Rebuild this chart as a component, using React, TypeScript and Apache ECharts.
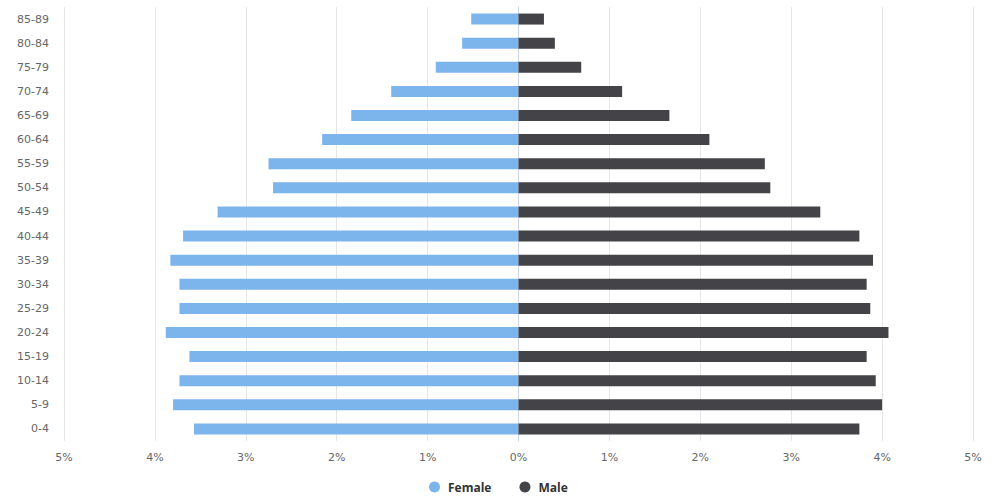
import React, { useEffect, useRef } from "react";
import * as echarts from "echarts";

const categories = ["0-4", "5-9", "10-14", "15-19", "20-24", "25-29", "30-34", "35-39", "40-44", "45-49", "50-54", "55-59", "60-64", "65-69", "70-74", "75-79", "80-84", "85-89"];
const femaleValues = [3.57, 3.80, 3.73, 3.62, 3.88, 3.73, 3.73, 3.83, 3.69, 3.31, 2.70, 2.75, 2.16, 1.84, 1.40, 0.91, 0.62, 0.52];
const maleValues = [3.75, 4.00, 3.93, 3.83, 4.07, 3.87, 3.83, 3.90, 3.75, 3.32, 2.77, 2.71, 2.10, 1.66, 1.14, 0.69, 0.40, 0.28];

const FONT = "DejaVu Sans, Verdana, sans-serif";
const LEGEND_FONT = "Open Sans, DejaVu Sans, sans-serif";

export default function App() {
  const ref = useRef<HTMLDivElement>(null);
  useEffect(() => {
    if (!ref.current) return;
    const chart = echarts.init(ref.current, null, { renderer: "svg" });
    chart.setOption({
      animation: false,
      textStyle: { fontFamily: FONT },
      grid: { left: 64, right: 21, top: 7, bottom: 59, containLabel: false },
      legend: {
        data: ["Female", "Male"],
        top: 481,
        left: 429,
        padding: 0,
        icon: "circle",
        itemWidth: 11,
        itemHeight: 11,
        itemGap: 28,
        textStyle: {
          fontFamily: LEGEND_FONT,
          fontSize: 12,
          fontWeight: "bold",
          color: "#333333",
          padding: [0, 0, 0, 3],
        },
      },
      xAxis: {
        type: "value",
        min: -5,
        max: 5,
        interval: 1,
        axisLine: { show: false },
        axisTick: { show: false },
        splitLine: { show: true, lineStyle: { color: "#e6e6e6", width: 1 } },
        axisLabel: {
          color: "#666666",
          fontSize: 11,
          fontFamily: FONT,
          margin: 11,
          formatter: (v: number) => Math.abs(v) + "%",
        },
      },
      yAxis: {
        type: "category",
        data: categories,
        axisLine: { show: true, lineStyle: { color: "#ccd6eb", width: 1 } },
        axisTick: { show: false },
        axisLabel: { color: "#666666", fontSize: 11, fontFamily: FONT, margin: 15 },
        splitLine: { show: false },
      },
      series: [
        {
          name: "Female",
          type: "bar",
          stack: "pop",
          barWidth: 11,
          itemStyle: { color: "#7cb5ec" },
          data: femaleValues.map((v) => -v),
        },
        {
          name: "Male",
          type: "bar",
          stack: "pop",
          barWidth: 11,
          itemStyle: { color: "#434348" },
          data: maleValues,
        },
      ],
    });
    return () => chart.dispose();
  }, []);
  return <div ref={ref} style={{ position: "absolute", left: 0, top: 0, width: 994, height: 500 }} />;
}
